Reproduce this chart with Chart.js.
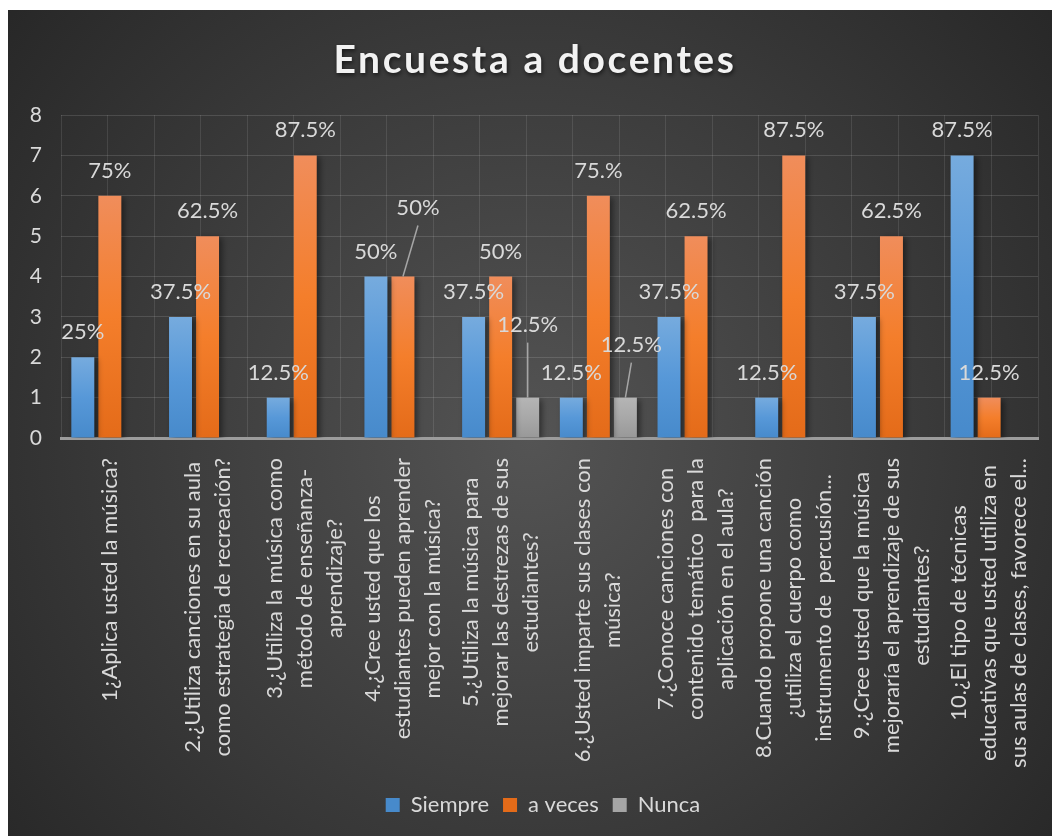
<!DOCTYPE html>
<html>
<head>
<meta charset="utf-8">
<script src="https://cdn.jsdelivr.net/npm/chart.js@4.4.0/dist/chart.umd.min.js"></script>
<style>
    html, body { margin: 0; padding: 0; background: #ffffff; }
    #wrap { position: absolute; left: 8px; top: 10px; width: 1044px; height: 826px; }
</style>
</head>
<body>
<div id="wrap"><canvas id="chart" width="1044" height="826"></canvas></div>
<script>
const chartTitle = 'Encuesta a docentes';

const categories = [
    ['1¿Aplica usted la música?'],
    ['2.¿Utiliza canciones en su aula', 'como estrategia de recreación?'],
    ['3.¿Utiliza la música como', 'método de enseñanza-', 'aprendizaje?'],
    ['4.¿Cree usted que los', 'estudiantes pueden aprender', 'mejor con la música?'],
    ['5.¿Utiliza la música para', 'mejorar las destrezas de sus', 'estudiantes?'],
    ['6.¿Usted imparte sus clases con', 'música?'],
    ['7.¿Conoce canciones con', 'contenido temático  para la', 'aplicación en el aula?'],
    ['8.Cuando propone una canción', '¿utiliza el cuerpo como', 'instrumento de  percusión...'],
    ['9.¿Cree usted que la música', 'mejoraría el aprendizaje de sus', 'estudiantes?'],
    ['10.¿El tipo de técnicas', 'educativas que usted utiliza en', 'sus aulas de clases, favorece el...']
];

const siempre = [2, 3, 1, 4, 3, 1, 3, 1, 3, 7];
const aVeces = [6, 5, 7, 4, 4, 6, 5, 7, 5, 1];
const nunca = [0, 0, 0, 0, 1, 1, 0, 0, 0, 0];

const siempreLabels = ['25%', '37.5%', '12.5%', '50%', '37.5%', '12.5%', '37.5%', '12.5%', '37.5%', '87.5%'];
const aVecesLabels = ['75%', '62.5%', '87.5%', '50%', '50%', '75.%', '62.5%', '87.5%', '62.5%', '12.5%'];
const nuncaLabels = ['', '', '', '', '12.5%', '12.5%', '', '', '', ''];

const yMin = 0;
const yMax = 8;

const fontFamily = 'Lato, "Open Sans", sans-serif';
const textColor = '#d9d9d9';

// labels moved by hand in the original, with a leader line
const labelShift = {
    '1-3': [15, -44],
    '2-4': [0, -48],
    '2-5': [6, -28]
};

function barFill(stops, solid) {
    return (c) => {
        if (c.type !== 'data' || !c.chart.chartArea) return solid;
        const y = c.chart.scales.y;
        const y0 = y.getPixelForValue(0);
        const y1 = y.getPixelForValue(c.raw);
        if (y0 - y1 < 1) return solid;
        const g = c.chart.ctx.createLinearGradient(0, y1, 0, y0);
        stops.forEach((col, i) => g.addColorStop(i / (stops.length - 1), col));
        return g;
    };
}

const backgroundPlugin = {
    id: 'background',
    afterLayout(chart) {
        // the legend sits a bit right of centre in the original
        chart.legend.left += 20;
        chart.legend.right += 20;
    },
    beforeDraw(chart) {
        const { ctx, width, height } = chart;
        const g = ctx.createRadialGradient(width * 0.5, height * 0.52, 0, width * 0.5, height * 0.52, 700);
        g.addColorStop(0, '#545454');
        g.addColorStop(1, '#262626');
        ctx.save();
        ctx.fillStyle = g;
        ctx.fillRect(0, 0, width, height);

        ctx.font = 'bold 39px ' + fontFamily;
        ctx.letterSpacing = '2.6px';
        ctx.fillStyle = '#f2f2f2';
        ctx.textAlign = 'center';
        ctx.textBaseline = 'middle';
        ctx.shadowColor = 'rgba(0,0,0,0.6)';
        ctx.shadowBlur = 4;
        ctx.shadowOffsetX = 1;
        ctx.shadowOffsetY = 2;
        ctx.fillText(chartTitle, width / 2 + 5, 50);
        ctx.restore();
    }
};

const barsPlugin = {
    id: 'bars',
    beforeDatasetsDraw(chart) {
        const ctx = chart.ctx;
        ctx.save();
        ctx.shadowColor = 'rgba(0,0,0,0.45)';
        ctx.shadowBlur = 6;
        ctx.shadowOffsetX = 3;
        ctx.shadowOffsetY = 2;
    },
    afterDatasetsDraw(chart) {
        const ctx = chart.ctx;
        ctx.restore();

        ctx.save();
        ctx.font = '22px ' + fontFamily;
        ctx.fillStyle = textColor;
        ctx.strokeStyle = '#a6a6a6';
        ctx.lineWidth = 1.5;
        ctx.textAlign = 'center';
        ctx.textBaseline = 'middle';
        [siempreLabels, aVecesLabels, nuncaLabels].forEach((texts, d) => {
            chart.getDatasetMeta(d).data.forEach((bar, i) => {
                const t = texts[i];
                if (!t) return;
                const s = labelShift[d + '-' + i];
                const lx = bar.x + (s ? s[0] : 0);
                const ly = bar.y - 25 + (s ? s[1] : 0);
                if (s) {
                    ctx.beginPath();
                    ctx.moveTo(lx, ly + 18);
                    ctx.lineTo(bar.x, bar.y);
                    ctx.stroke();
                }
                ctx.fillText(t, lx, ly);
            });
        });
        ctx.restore();
    },
    afterDraw(chart) {
        const ctx = chart.ctx;
        const x = chart.scales.x;
        const top = chart.chartArea.bottom + 20;
        ctx.save();
        ctx.font = '22px ' + fontFamily;
        ctx.fillStyle = textColor;
        ctx.textAlign = 'center';
        ctx.textBaseline = 'middle';
        categories.forEach((lines, i) => {
            const cx = x.getPixelForValue(i);
            const maxW = Math.max(...lines.map(l => ctx.measureText(l).width));
            ctx.save();
            ctx.translate(cx, top);
            ctx.rotate(-Math.PI / 2);
            lines.forEach((l, j) => {
                ctx.fillText(l, -maxW / 2, (j - (lines.length - 1) / 2) * 30);
            });
            ctx.restore();
        });
        ctx.restore();
    }
};

const chartCtx = document.getElementById('chart').getContext('2d');

const chart = new Chart(chartCtx, {
    type: 'bar',
    data: {
        labels: categories,
        datasets: [{
            label: 'Siempre',
            data: siempre,
            backgroundColor: barFill(['#76abde', '#5798d8', '#478acb'], '#5b9bd5')
        },
        {
            label: 'a veces',
            data: aVeces,
            backgroundColor: barFill(['#f08d5b', '#f47e2b', '#e46b19'], '#ed7d31')
        },
        {
            label: 'Nunca',
            data: nunca,
            backgroundColor: barFill(['#b5b5b5', '#a8a8a8', '#989898'], '#a5a5a5')
        }]
    },
    options: {
        responsive: false,
        animation: false,
        categoryPercentage: 0.83,
        barPercentage: 0.85,
        layout: {
            padding: { top: 105, right: 14, bottom: 10, left: 0 }
        },
        plugins: {
            title: { display: false },
            tooltip: { enabled: false },
            legend: {
                position: 'bottom',
                labels: {
                    color: textColor,
                    font: { family: fontFamily, size: 22 },
                    boxWidth: 14,
                    boxHeight: 14,
                    padding: 14
                }
            }
        },
        scales: {
            x: {
                grid: { display: false },
                ticks: { display: false },
                border: { display: true, color: '#9c9c9c', width: 3 },
                afterFit: s => { s.height = 342; }
            },
            xg: {
                type: 'linear',
                position: 'top',
                min: 0,
                max: 20,
                ticks: { display: false, stepSize: 1 },
                grid: { color: 'rgba(255,255,255,0.1)', lineWidth: 1, drawTicks: false },
                border: { display: false },
                afterFit: s => { s.height = 0; }
            },
            y: {
                min: yMin,
                max: yMax,
                ticks: {
                    stepSize: 1,
                    color: textColor,
                    padding: 19,
                    font: { family: fontFamily, size: 21 }
                },
                grid: { color: 'rgba(255,255,255,0.13)', lineWidth: 1, drawTicks: false },
                border: { display: false },
                afterFit: s => { s.width = 53; }
            }
        }
    },
    plugins: [backgroundPlugin, barsPlugin]
});
</script>
</body>
</html>
